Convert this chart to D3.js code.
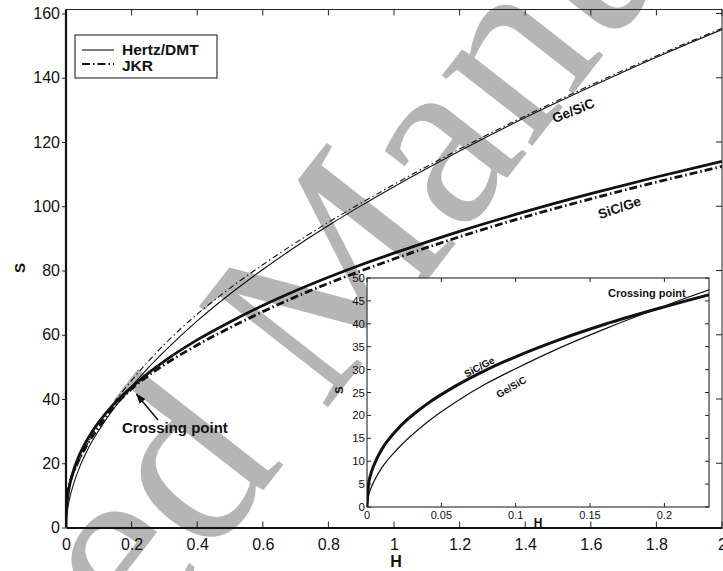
<!DOCTYPE html>
<html>
<head>
<meta charset="utf-8">
<script src="https://cdn.jsdelivr.net/npm/d3@7"></script>
<style>
  html, body { margin: 0; padding: 0; background: #fff; }
  svg { display: block; }
  text { font-family: "Liberation Sans", Arial, Helvetica, sans-serif; fill: #111; }
</style>
</head>
<body>
<svg id="chart" width="723" height="571"></svg>
<script>
// Dimensionless load H and stiffness S for the two material pairings
const H = [0, 0.001, 0.0025, 0.005, 0.01, 0.02, 0.04, 0.06, 0.08, 0.1, 0.13, 0.16, 0.2, 0.25,
           0.3, 0.4, 0.5, 0.6, 0.7, 0.8, 0.9, 1.0, 1.2, 1.4, 1.6, 1.8, 2.0];

const geSicHertz = [0, 2.4, 4.0, 5.8, 8.6, 12.5, 18.4, 23.0, 26.9, 30.2, 34.8, 38.9, 43.9, 49.6,
                    54.8, 64.3, 72.7, 80.3, 87.4, 94.0, 100.2, 106.1, 117.2, 127.6, 137.2, 146.4, 155.0];
const geSicJKR   = [9.0, 9.8, 10.6, 11.6, 13.2, 16.0, 20.8, 25.0, 28.7, 32.0, 36.6, 40.7, 45.8, 51.6,
                    57.0, 66.4, 74.5, 81.8, 88.6, 95.0, 101.0, 106.8, 117.8, 128.1, 137.7, 146.8, 155.4];
const sicGeHertz = [0, 4.8, 7.1, 9.4, 12.6, 16.8, 22.4, 26.5, 29.9, 32.8, 36.6, 39.9, 43.7, 48.0,
                    51.8, 58.4, 64.0, 69.1, 73.7, 77.9, 81.8, 85.4, 92.2, 98.3, 103.9, 109.1, 114.0];
const sicGeJKR   = [10.0, 10.5, 11.2, 12.0, 13.5, 16.4, 21.2, 25.0, 28.3, 31.2, 35.5, 39.2, 43.2, 47.2,
                    50.7, 56.8, 62.2, 67.2, 71.8, 76.0, 79.9, 83.6, 90.5, 96.7, 102.3, 107.5, 112.4];

const mainXTicks = [0, 0.2, 0.4, 0.6, 0.8, 1, 1.2, 1.4, 1.6, 1.8, 2];
const mainYTicks = [0, 20, 40, 60, 80, 100, 120, 140, 160];
const insetXTicks = [0, 0.05, 0.1, 0.15, 0.2];
const insetYTicks = [0, 5, 10, 15, 20, 25, 30, 35, 40, 45, 50];

const svg = d3.select("#chart");

// Watermark behind everything
svg.append("text")
  .attr("transform", "translate(-296,1206) rotate(-52)")
  .style("font-family", "'Liberation Serif', 'Times New Roman', serif")
  .style("font-size", "250px")
  .style("fill", "#b5b5b5")
  .text("Accepted Manuscript");

// ---------- main axes ----------
const x = d3.scaleLinear().domain([0, 2]).range([66, 722]);
const y = d3.scaleLinear().domain([0, 160]).range([527.5, 13.5]);
const yTop = y(161.25);

svg.append("clipPath").attr("id", "mainClip")
  .append("rect").attr("x", x(0)).attr("y", yTop).attr("width", x(2) - x(0)).attr("height", y(0) - yTop);

const lineOf = (xs, ys) => d3.line().x(d => xs(d[0])).y(d => ys(d[1])).curve(d3.curveMonotoneX);
const pairs = vals => H.map((h, i) => [h, vals[i]]);

const gMain = svg.append("g").attr("clip-path", "url(#mainClip)");
const mainLine = lineOf(x, y);

gMain.append("path").attr("d", mainLine(pairs(geSicHertz)))
  .attr("fill", "none").attr("stroke", "#111").attr("stroke-width", 1.1);
gMain.append("path").attr("d", mainLine(pairs(geSicJKR)))
  .attr("fill", "none").attr("stroke", "#111").attr("stroke-width", 1.1)
  .attr("stroke-dasharray", "6,3,1.5,3");
gMain.append("path").attr("d", mainLine(pairs(sicGeHertz)))
  .attr("fill", "none").attr("stroke", "#111").attr("stroke-width", 2.8);
gMain.append("path").attr("d", mainLine(pairs(sicGeJKR)))
  .attr("fill", "none").attr("stroke", "#111").attr("stroke-width", 2.8)
  .attr("stroke-dasharray", "8,3,1.5,3");

// frame: thin top/right, heavy left/bottom
svg.append("line").attr("x1", x(0)).attr("x2", x(2)).attr("y1", yTop).attr("y2", yTop)
  .attr("stroke", "#222").attr("stroke-width", 1);
svg.append("line").attr("x1", x(2)).attr("x2", x(2)).attr("y1", yTop).attr("y2", y(0))
  .attr("stroke", "#222").attr("stroke-width", 1);

// ticks on top, bottom and right (inward)
mainXTicks.forEach(t => {
  svg.append("line").attr("x1", x(t)).attr("x2", x(t)).attr("y1", yTop).attr("y2", yTop + 6)
    .attr("stroke", "#222").attr("stroke-width", 1);
  svg.append("line").attr("x1", x(t)).attr("x2", x(t)).attr("y1", y(0)).attr("y2", y(0) - 6)
    .attr("stroke", "#222").attr("stroke-width", 1);
});
mainYTicks.forEach(t => {
  svg.append("line").attr("x1", x(2)).attr("x2", x(2) - 6).attr("y1", y(t)).attr("y2", y(t))
    .attr("stroke", "#222").attr("stroke-width", 1);
});

const xAxis = svg.append("g").attr("transform", `translate(0,${y(0)})`)
  .call(d3.axisBottom(x).tickValues(mainXTicks).tickSize(0).tickPadding(11)
        .tickFormat(d => d3.format("~g")(d)));
xAxis.select(".domain").attr("stroke", "#111").attr("stroke-width", 2.2);
xAxis.selectAll("text").style("font-size", "16px").attr("fill", "#111");

const yAxis = svg.append("g").attr("transform", `translate(${x(0)},0)`)
  .call(d3.axisLeft(y).tickValues(mainYTicks).tickSize(4).tickPadding(2));
yAxis.select(".domain").attr("d", `M0,${yTop}V${y(0)}`).attr("stroke", "#111").attr("stroke-width", 2.2);
yAxis.selectAll(".tick line").attr("stroke", "#222");
yAxis.selectAll("text").style("font-size", "16px").attr("fill", "#111");

svg.append("text").attr("x", 396).attr("y", 567).attr("text-anchor", "middle")
  .style("font-size", "16px").style("font-weight", "bold").text("H");
svg.append("text").attr("transform", "translate(25,268) rotate(-90)").attr("text-anchor", "middle")
  .style("font-size", "15px").style("font-weight", "bold").text("S");

// curve labels
svg.append("text").attr("transform", "translate(575,115) rotate(-22)").attr("text-anchor", "middle")
  .style("font-size", "13.5px").style("font-weight", "bold").text("Ge/SiC");
svg.append("text").attr("transform", "translate(621,212) rotate(-19)").attr("text-anchor", "middle")
  .style("font-size", "13.5px").style("font-weight", "bold").text("SiC/Ge");

// crossing point annotation
svg.append("text").attr("x", 122).attr("y", 433)
  .style("font-size", "15px").style("font-weight", "bold").text("Crossing point");
svg.append("defs").append("marker").attr("id", "arrowHead")
  .attr("viewBox", "0 0 10 10").attr("refX", 9).attr("refY", 5)
  .attr("markerWidth", 7).attr("markerHeight", 7).attr("orient", "auto")
  .append("path").attr("d", "M0,1.5L10,5L0,8.5Z").attr("fill", "#111");
svg.append("line").attr("x1", 158).attr("y1", 420).attr("x2", x(0.215)).attr("y2", y(41.5))
  .attr("stroke", "#111").attr("stroke-width", 1.5).attr("marker-end", "url(#arrowHead)");

// legend
const leg = svg.append("g");
leg.append("rect").attr("x", 75).attr("y", 35).attr("width", 142).attr("height", 43)
  .attr("fill", "#fff").attr("stroke", "#111").attr("stroke-width", 1);
leg.append("line").attr("x1", 82).attr("x2", 114).attr("y1", 50).attr("y2", 50)
  .attr("stroke", "#111").attr("stroke-width", 1.1);
leg.append("line").attr("x1", 82).attr("x2", 114).attr("y1", 64).attr("y2", 64)
  .attr("stroke", "#111").attr("stroke-width", 2.2).attr("stroke-dasharray", "8,3,1.5,3");
leg.append("text").attr("x", 122).attr("y", 55)
  .style("font-size", "15.5px").style("font-weight", "bold").text("Hertz/DMT");
leg.append("text").attr("x", 122).attr("y", 70.5)
  .style("font-size", "15.5px").style("font-weight", "bold").text("JKR");

// ---------- inset ----------
const xi = d3.scaleLinear().domain([0, 0.23]).range([367, 709]);
const yi = d3.scaleLinear().domain([0, 50]).range([507, 278]);

svg.append("rect").attr("x", xi(0)).attr("y", yi(50)).attr("width", xi(0.23) - xi(0))
  .attr("height", yi(0) - yi(50)).attr("fill", "#fff");

svg.append("clipPath").attr("id", "insetClip")
  .append("rect").attr("x", xi(0)).attr("y", yi(50)).attr("width", xi(0.23) - xi(0))
  .attr("height", yi(0) - yi(50));
const gIn = svg.append("g").attr("clip-path", "url(#insetClip)");
const insetLine = lineOf(xi, yi);
gIn.append("path").attr("d", insetLine(pairs(geSicHertz)))
  .attr("fill", "none").attr("stroke", "#111").attr("stroke-width", 1.2);
gIn.append("path").attr("d", insetLine(pairs(sicGeHertz)))
  .attr("fill", "none").attr("stroke", "#111").attr("stroke-width", 3);

svg.append("rect").attr("x", xi(0)).attr("y", yi(50)).attr("width", xi(0.23) - xi(0))
  .attr("height", yi(0) - yi(50)).attr("fill", "none").attr("stroke", "#111").attr("stroke-width", 1);

insetXTicks.forEach(t => {
  svg.append("line").attr("x1", xi(t)).attr("x2", xi(t)).attr("y1", yi(0)).attr("y2", yi(0) - 4)
    .attr("stroke", "#222").attr("stroke-width", 1);
  svg.append("line").attr("x1", xi(t)).attr("x2", xi(t)).attr("y1", yi(50)).attr("y2", yi(50) + 4)
    .attr("stroke", "#222").attr("stroke-width", 1);
  svg.append("text").attr("x", xi(t)).attr("y", yi(0) + 12).attr("text-anchor", "middle")
    .style("font-size", "11px").attr("fill", "#222").text(d3.format("~g")(t));
});
insetYTicks.forEach(t => {
  svg.append("line").attr("x1", xi(0)).attr("x2", xi(0) + 4).attr("y1", yi(t)).attr("y2", yi(t))
    .attr("stroke", "#222").attr("stroke-width", 1);
  svg.append("line").attr("x1", xi(0.23)).attr("x2", xi(0.23) - 4).attr("y1", yi(t)).attr("y2", yi(t))
    .attr("stroke", "#222").attr("stroke-width", 1);
  svg.append("text").attr("x", xi(0) - 2).attr("y", yi(t) + 4).attr("text-anchor", "end")
    .style("font-size", "11.5px").attr("fill", "#222").text(t);
});
svg.append("text").attr("x", 538).attr("y", 527).attr("text-anchor", "middle")
  .style("font-size", "12px").style("font-weight", "bold").text("H");
svg.append("text").attr("transform", "translate(343,390) rotate(-90)").attr("text-anchor", "middle")
  .style("font-size", "11px").style("font-weight", "bold").text("S");

svg.append("text").attr("x", 608).attr("y", 297)
  .style("font-size", "11px").style("font-weight", "bold").text("Crossing point");
svg.append("text").attr("transform", "translate(481,370) rotate(-28)").attr("text-anchor", "middle")
  .style("font-size", "10px").style("font-weight", "bold").text("SiC/Ge");
svg.append("text").attr("transform", "translate(513,390) rotate(-30)").attr("text-anchor", "middle")
  .style("font-size", "10px").style("font-weight", "bold").text("Ge/SiC");
</script>
</body>
</html>
